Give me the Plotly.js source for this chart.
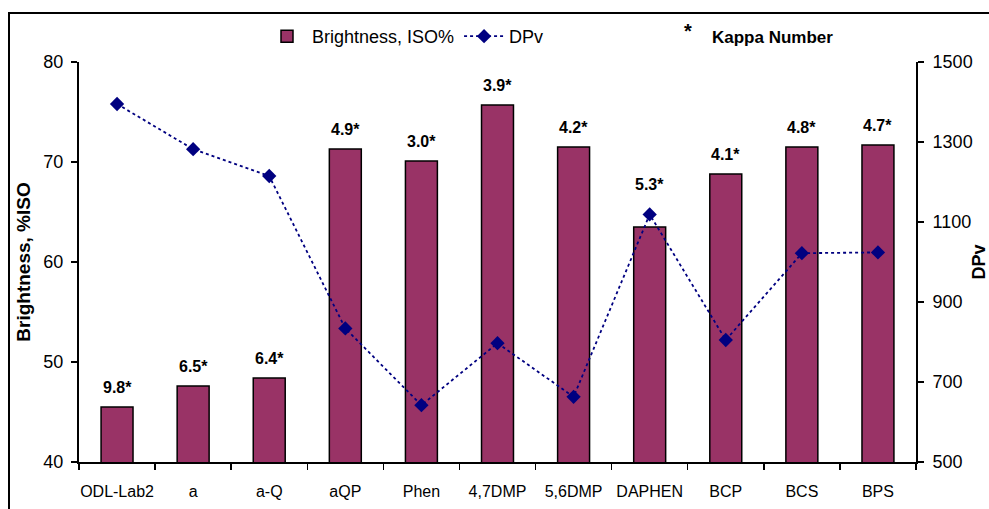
<!DOCTYPE html>
<html>
<head>
<meta charset="utf-8">
<script src="https://cdn.plot.ly/plotly-3.0.1.min.js"></script>
<style>html,body{margin:0;padding:0;background:#fff;}#chart{width:989px;height:509px;}</style>
</head>
<body>
<div id="chart"></div>
<script>
const categories = ["ODL-Lab2","a","a-Q","aQP","Phen","4,7DMP","5,6DMP","DAPHEN","BCP","BCS","BPS"];
const brightness = [45.5, 47.6, 48.4, 71.3, 70.1, 75.7, 71.5, 63.5, 68.8, 71.5, 71.7];
const dpv = [1395, 1282, 1215, 834, 642, 797, 663, 1119, 805, 1022, 1024];
const kappa = ["9.8","6.5","6.4","4.9","3.0","3.9","4.2","5.3","4.1","4.8","4.7"];

const F = "Arial, 'Liberation Sans', sans-serif";

const traces = [
  {
    type: "bar", name: "Brightness, ISO%", x: categories, y: brightness,
    marker: {color: "#993366", line: {color: "#000", width: 1.5}},
    width: 0.42
  },
  {
    type: "scatter", mode: "lines+markers", name: "DPv", x: categories, y: dpv, yaxis: "y2",
    line: {color: "#000080", width: 1.8, dash: "dot"},
    marker: {symbol: "diamond", size: 11, color: "#000080"}
  }
];

const annotations = categories.map((c, i) => ({
  x: c, y: brightness[i], xref: "x", yref: "y", text: kappa[i] + "*",
  showarrow: false, yanchor: "bottom", yshift: (c === "DAPHEN") ? 32 : 9,
  font: {family: F, size: 16, color: "#000", weight: "bold"}
}));
annotations.push({
  xref: "paper", yref: "paper", x: (688 - 79) / 837, y: (462 - 31) / 400, text: "*",
  showarrow: false, xanchor: "center", yanchor: "middle",
  font: {family: F, size: 20, color: "#000", weight: "bold"}
});
annotations.push({
  xref: "paper", yref: "paper", x: (710 - 79) / 837, y: (462 - 38) / 400, text: "Kappa Number",
  showarrow: false, xanchor: "left", yanchor: "middle",
  font: {family: F, size: 17, color: "#000", weight: "bold"}
});

const layout = {
  width: 989, height: 509,
  margin: {l: 79, r: 73, t: 62, b: 47, pad: 0, autoexpand: false},
  paper_bgcolor: "#fff", plot_bgcolor: "#fff",
  font: {family: F, size: 16, color: "#000"},
  bargap: 0.58,
  showlegend: true,
  legend: {
    orientation: "h", x: (262 - 79) / 837, xanchor: "left", y: (462 - 18) / 400, yanchor: "top",
    font: {family: F, size: 18, color: "#000"}, bgcolor: "rgba(0,0,0,0)", itemwidth: 40,
    tracegroupgap: 0
  },
  xaxis: {
    type: "category", range: [-0.5, categories.length - 0.5],
    tickson: "boundaries", ticks: "outside", ticklen: 6, tickwidth: 1.5, tickcolor: "#000",
    showline: true, linecolor: "#000", linewidth: 2, showgrid: false, zeroline: false, tickangle: 0,
    automargin: false, ticklabelstandoff: 14,
    tickfont: {family: F, size: 16, color: "#000"}, fixedrange: true
  },
  yaxis: {
    range: [40, 80], tickvals: [40, 50, 60, 70, 80], ticks: "outside", ticklen: 6, tickwidth: 1.5, tickcolor: "#000",
    showline: true, linecolor: "#000", linewidth: 2, showgrid: false, zeroline: false, automargin: false,
    ticklabelstandoff: 4,
    tickfont: {family: F, size: 18, color: "#000"},
    title: {text: "Brightness, %ISO", font: {family: F, size: 19, color: "#000", weight: "bold"}, standoff: 8}
  },
  yaxis2: {
    overlaying: "y", side: "right", range: [500, 1500], tickvals: [500, 700, 900, 1100, 1300, 1500],
    ticks: "outside", ticklen: 6, tickwidth: 1.5, tickcolor: "#000", automargin: false,
    ticklabelstandoff: 5,
    showline: true, linecolor: "#000", linewidth: 2, showgrid: false, zeroline: false,
    tickfont: {family: F, size: 18, color: "#000"},
    title: {text: "DPv", font: {family: F, size: 18, color: "#000", weight: "bold"}, standoff: 14}
  },
  shapes: [{
    type: "rect", xref: "paper", yref: "paper",
    x0: (9 - 79) / 837, x1: 1.2, y0: -0.3, y1: (462 - 13) / 400,
    line: {color: "#000", width: 2}, fillcolor: "rgba(0,0,0,0)", layer: "below"
  }],
  annotations: annotations
};

Plotly.newPlot("chart", traces, layout, {displayModeBar: false, staticPlot: true});
</script>
</body>
</html>
